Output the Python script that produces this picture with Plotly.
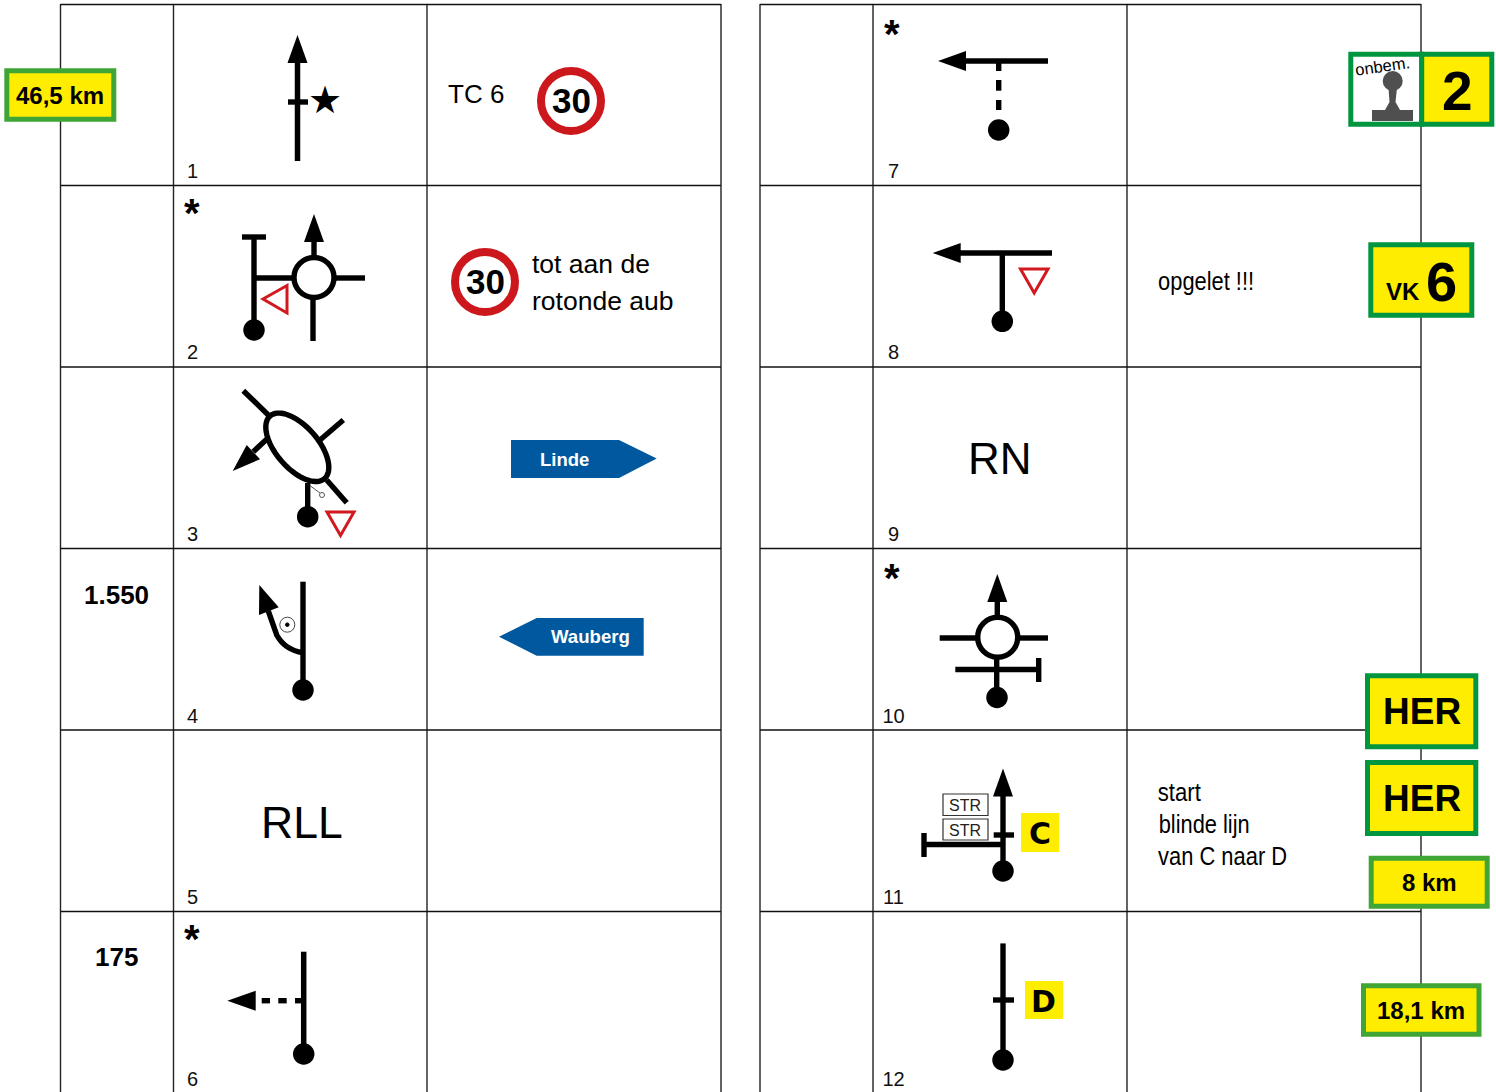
import math, json
import plotly.graph_objects as go

# ---- content ----
cell_numbers = ["1","2","3","4","5","6","7","8","9","10","11","12"]
cell_number_x = [192.5]*6 + [893.5]*6
cell_number_y = [172.5,354,535.5,717.5,898.5,1080.5]*2
dot_x = [254,307.7,303,303.7,998.7,1002.3,997,1003,1003]
dot_y = [330,516.7,690,1054,130,321.3,697.5,871,1060]
row_lines = [4.5,185.5,367,548.5,730,911.5]
left_cols = [60.5,173.5,427,721]
right_cols = [760,873,1127,1421]
asterisks = [(192,207),(192,933),(892,28),(892,572)]
narrow_lines = ["opgelet !!!","start","blinde lijn","van C naar D"]
narrow_widths = [96,43,91,129]
narrow_y = [281,792,824,856]
YELLOW="#FFED00"; LGREEN="#3FA535"; DGREEN="#009640"; RED="#D2191F"; BLUE="#00589F"; INK="#000000"
FONT="Liberation Sans"

shapes=[]; notes=[]
def seg(x0,y0,x1,y1,w=5.4,c=INK,dash=None):
    shapes.append(dict(type="line",xref="x",yref="y",x0=x0,y0=y0,x1=x1,y1=y1,line=dict(color=c,width=w,dash=dash or "solid")))
def poly(pts,fill=INK,lc=None,lw=0):
    p="M"+" L".join(f"{a},{b}" for a,b in pts)+" Z"
    shapes.append(dict(type="path",xref="x",yref="y",path=p,fillcolor=fill,line=dict(color=lc or fill,width=lw)))
def curve(p,w=5.4,c=INK):
    shapes.append(dict(type="path",xref="x",yref="y",path=p,line=dict(color=c,width=w)))
def ring(cx,cy,r,w=5.4,c=INK,fill="#FFFFFF"):
    shapes.append(dict(type="circle",xref="x",yref="y",x0=cx-r,x1=cx+r,y0=cy-r,y1=cy+r,fillcolor=fill,line=dict(color=c,width=w)))
def box(x0,y0,x1,y1,fill,lc=None,lw=0):
    shapes.append(dict(type="rect",xref="x",yref="y",x0=x0,x1=x1,y0=y0,y1=y1,fillcolor=fill,line=dict(color=lc or fill,width=lw)))
def txt(x,y,t,size,bold=False,c=INK,font=FONT,anchor="center",angle=0):
    notes.append(dict(x=x,y=y,xref="x",yref="y",text=f"<b>{t}</b>" if bold else t,showarrow=False,
        font=dict(family=font,size=size,color=c),xanchor=anchor,yanchor="middle",textangle=angle,borderpad=0))
def up(x,tip,base,hw=10): poly([(x,tip),(x+hw,base),(x-hw,base)])
def left(tip,y,base,hw=10): poly([(tip,y),(base,y-hw),(base,y+hw)])
def badge(x0,y0,x1,y1,green,t=None,size=24):
    box(x0+2.5,y0+2.5,x1-2.5,y1-2.5,YELLOW,green,5)
    if t: txt((x0+x1)/2,(y0+y1)/2+0.5,t,size,True)
def speed(cx,cy):
    ring(cx,cy,30,8,"#CC171D")
    txt(cx,cy-1,"30",35,True)

# ---- grid ----
for cols in (left_cols,right_cols):
    for x in cols: seg(x,4,x,1092,1.4,"#222222")
    for y in row_lines: seg(cols[0],y,cols[-1],y,1.4,"#111111")

# ---- 1 ----
seg(297.5,60,297.5,161,5.5); up(297.5,35,63); seg(288,102,308,102)
txt(325,100,"★",38,font="DejaVu Sans")
# ---- 2 ----
seg(254,237,254,330); seg(242,237,266,237); seg(254,278,295,278)
seg(314,242,314,258); up(314,214,242); seg(336,278,365,278); seg(313,298,313,341)
ring(314,277.5,20)
poly([(263,299),(287,285.5),(287,313)],"#FFFFFF",RED,3)
# ---- 3 ----
seg(243.3,390.7,268.3,415); seg(320,440,343.3,420); seg(326.7,480,346.7,502.7)
seg(266.7,439.3,253.3,451.7); poly([(232.7,471),(246.7,445),(260,459.3)])
seg(307.7,483,307.7,516)
a,b,th=41.5,21,math.radians(49)
ell=[(297.3+a*math.cos(t)*math.cos(th)-b*math.sin(t)*math.sin(th),447.3+a*math.cos(t)*math.sin(th)+b*math.sin(t)*math.cos(th)) for t in [i*math.pi/36 for i in range(72)]]
poly(ell,"#FFFFFF",INK,5.4)
seg(310,485.7,320,493,1,"#555555"); ring(322,495,2.5,1,"#555555")
poly([(327,512),(354,512),(340.5,535.5)],"#FFFFFF",RED,3)
# ---- 4 ----
seg(303,581.7,303,690)
curve("M303,652.7 Q285,650 276.7,635 L268.3,611")
poly([(259.3,585),(259,615),(278.7,607.3)])
ring(287.3,624.7,7.5,1,"#444444"); ring(287.3,624.7,1.8,1,INK,INK)
# ---- 6 ----
seg(303.7,951.7,303.7,1054,5.5)
for d0,d1 in [(261.7,270),(278.3,286.7),(295,303)]: seg(d0,1000.7,d1,1000.7)
left(227.3,1000.7,255.7)
# ---- 7 ----
seg(964,61,1048,61,5.5); left(938,61,966)
for d0,d1 in [(63,71),(80,90.7),(100,110)]: seg(998.7,d0,998.7,d1)
# ---- 8 ----
seg(958,253,1052,253,5.5); left(932.7,253,960.7)
seg(1002.3,253,1002.3,321)
poly([(1020.5,269),(1048,269),(1034.2,293)],"#FFFFFF",RED,3)
# ---- 10 ----
seg(997.3,600,997.3,618); up(997.3,574,602)
seg(939.7,638,977,638); seg(1018,638,1048,638)
seg(996.7,656,996.7,697); seg(955.3,669.5,1038,669.5); seg(1038.7,658,1038.7,682)
ring(997.7,637.3,20)
# ---- 11 ----
seg(1003,795,1003,871); up(1003,768.4,796.5)
seg(993.7,835,1014,835); seg(924,844.5,1003,844.5); seg(924,833,924,857)
for y0,y1 in [(794,815.5),(819,840)]:
    box(943,y0,988,y1,"#FFFFFF","#333333",1.2)
    txt(964.5,(y0+y1)/2+1,"STR",16,c="#222222")
box(1021,813,1059,852,YELLOW); txt(1039.5,833,"C",30,True,font="DejaVu Sans")
# ---- 12 ----
seg(1003,943.4,1003,1060); seg(993,1000,1014,1000)
box(1025,981,1063,1019,YELLOW); txt(1043.5,1001,"D",30,True,font="DejaVu Sans")

# ---- cell texts ----
txt(476,94,"TC 6",26); speed(571,101); speed(485,282)
txt(531,264,"tot aan de",26.5,anchor="left"); txt(531,301,"rotonde aub",26.5,anchor="left")
txt(116.5,595,"1.550",26,True); txt(116,957,"175",26,True)
txt(301.5,822,"RLL",44.5); txt(1000,458,"RN",44)
poly([(511,440),(619,440),(656.7,458.5),(619,478),(511,478)],BLUE); txt(564.5,459,"Linde",18.5,True,"#FFFFFF")
poly([(499,636.7),(536.7,618),(643.7,618),(643.7,655.7),(536.7,655.7)],BLUE); txt(590,636.5,"Wauberg",18.6,True,"#FFFFFF")
for t,w,y in zip(narrow_lines,narrow_widths,narrow_y):
    txt(1158+w/2,y,t,26)
for x,y in asterisks: txt(x,y+6,"*",40,True)

# ---- badges ----
badge(4.3,68.3,116.3,121.7,LGREEN,"46,5 km",24)
box(1350.8,54.2,1421.7,124.2,"#FFFFFF",DGREEN,5); box(1421.7,54.2,1491.8,124.2,YELLOW,DGREEN,5)
ring(1392.7,81,10,0,"#4F4F4F","#4F4F4F")
poly([(1388.5,88),(1397,88),(1395.5,102),(1400,110),(1385,110),(1389.5,102)],"#4F4F4F")
box(1372,110,1413,121,"#4F4F4F")
txt(1382,66,"onbem.",16.5,angle=-8)
txt(1457,91,"2",55,True)
badge(1368.3,242.3,1474.3,317.7,DGREEN)
txt(1403.2,291.5,"VK",24,True); txt(1441.7,281.5,"6",56,True)
badge(1365,673.3,1478.3,749.3,DGREEN,"HER",37)
badge(1365,760,1478.3,836,DGREEN,"HER",37)
badge(1368.7,855.7,1489.7,908.7,LGREEN,"8 km",24)
badge(1361,983.3,1481.5,1036.7,LGREEN,"18,1 km",24)

fig=go.Figure()
fig.add_trace(go.Scatter(x=dot_x,y=dot_y,mode="markers",marker=dict(size=21.5,color=INK,line=dict(width=0)),hoverinfo="skip",showlegend=False))
fig.add_trace(go.Scatter(x=cell_number_x,y=cell_number_y,mode="text",text=cell_numbers,textposition="middle center",
    textfont=dict(family=FONT,size=20,color="#111111"),hoverinfo="skip",showlegend=False))
fig.update_layout(width=1496,height=1092,margin=dict(l=0,r=0,t=0,b=0),paper_bgcolor="white",plot_bgcolor="white",
    xaxis=dict(range=[0,1496],visible=False,fixedrange=True),yaxis=dict(range=[1092,0],visible=False,fixedrange=True),
    shapes=shapes,annotations=notes,showlegend=False,hovermode=False)
# The reference sets these lines in a condensed face; none is installed, so fit the real text to its measured width.
squeeze = "var m=" + json.dumps(dict(zip(narrow_lines,narrow_widths))) + ";" \
  "document.querySelectorAll('text.annotation-text').forEach(function(t){var w=m[t.textContent];" \
  "if(w){t.setAttribute('textLength',w);t.setAttribute('lengthAdjust','spacingAndGlyphs');}});" \
  "document.body.style.margin='0';"
fig.write_html("out.html",config=dict(displayModeBar=False),post_script=squeeze)
